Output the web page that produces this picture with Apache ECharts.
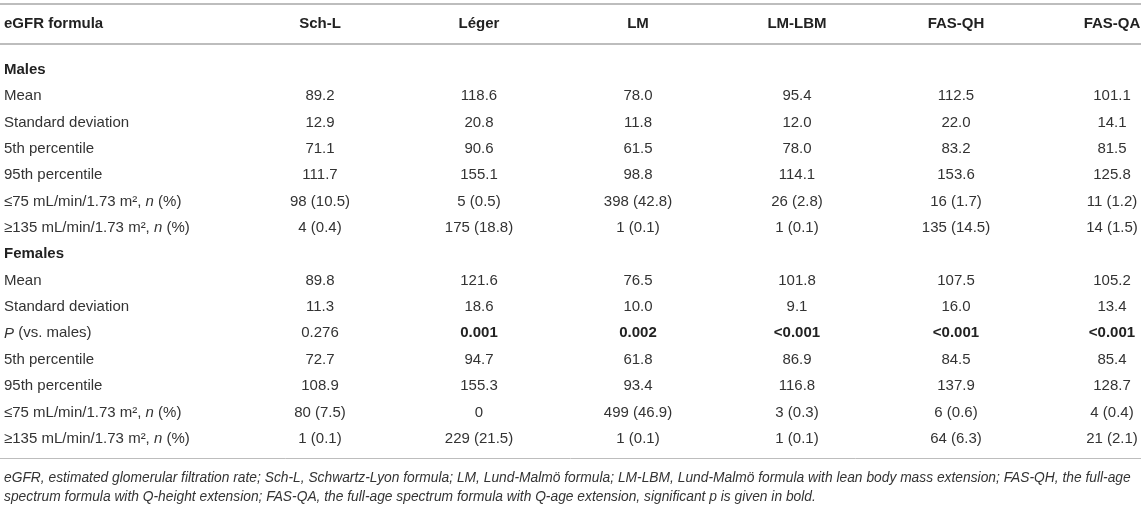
<!DOCTYPE html>
<html>
<head>
<meta charset="utf-8">
<title>eGFR formulas by sex</title>
<script src="https://cdn.jsdelivr.net/npm/echarts@6/dist/echarts.min.js"></script>
<style>
  html, body { margin: 0; padding: 0; background: #fff; }
  #table-chart { width: 1145px; height: 507px; }
</style>
</head>
<body>
<div id="table-chart"></div>
<script>
// ---- data ----
var formulas = ['Sch-L', 'Léger', 'LM', 'LM-LBM', 'FAS-QH', 'FAS-QA'];

var maleMean = ['89.2', '118.6', '78.0', '95.4', '112.5', '101.1'];
var maleSd = ['12.9', '20.8', '11.8', '12.0', '22.0', '14.1'];
var maleP5 = ['71.1', '90.6', '61.5', '78.0', '83.2', '81.5'];
var maleP95 = ['111.7', '155.1', '98.8', '114.1', '153.6', '125.8'];
var maleLow = ['98 (10.5)', '5 (0.5)', '398 (42.8)', '26 (2.8)', '16 (1.7)', '11 (1.2)'];
var maleHigh = ['4 (0.4)', '175 (18.8)', '1 (0.1)', '1 (0.1)', '135 (14.5)', '14 (1.5)'];

var femaleMean = ['89.8', '121.6', '76.5', '101.8', '107.5', '105.2'];
var femaleSd = ['11.3', '18.6', '10.0', '9.1', '16.0', '13.4'];
var femaleP = ['0.276', '0.001', '0.002', '<0.001', '<0.001', '<0.001'];
var femaleP5 = ['72.7', '94.7', '61.8', '86.9', '84.5', '85.4'];
var femaleP95 = ['108.9', '155.3', '93.4', '116.8', '137.9', '128.7'];
var femaleLow = ['80 (7.5)', '0', '499 (46.9)', '3 (0.3)', '6 (0.6)', '4 (0.4)'];
var femaleHigh = ['1 (0.1)', '229 (21.5)', '1 (0.1)', '1 (0.1)', '64 (6.3)', '21 (2.1)'];

var lowLabel = '≤75 mL/min/1.73 m², {i|n} (%)';
var highLabel = '≥135 mL/min/1.73 m², {i|n} (%)';

var rows = [
  { label: '{b|Males}', values: null },
  { label: 'Mean', values: maleMean },
  { label: 'Standard deviation', values: maleSd },
  { label: '5th percentile', values: maleP5 },
  { label: '95th percentile', values: maleP95 },
  { label: lowLabel, values: maleLow },
  { label: highLabel, values: maleHigh },
  { label: '{b|Females}', values: null },
  { label: 'Mean', values: femaleMean },
  { label: 'Standard deviation', values: femaleSd },
  { label: '{i|P} (vs. males)', values: femaleP, pvalue: true },
  { label: '5th percentile', values: femaleP5 },
  { label: '95th percentile', values: femaleP95 },
  { label: lowLabel, values: femaleLow },
  { label: highLabel, values: femaleHigh }
];

var footnote = [
  'eGFR, estimated glomerular filtration rate; Sch-L, Schwartz-Lyon formula; LM, Lund-Malmö formula; LM-LBM, Lund-Malmö formula with lean body mass extension; FAS-QH, the full-age',
  'spectrum formula with Q-height extension; FAS-QA, the full-age spectrum formula with Q-age extension, significant p is given in bold.'
];

// ---- layout ----
var W = 1145;
var ruleEnd = 1141;
var colX = [320, 479, 638, 797, 956, 1112];
var labelX = 4;
var font = '"Liberation Sans", Arial, sans-serif';
var ink = '#333';
var rule = '#bdbdbd';

var rich = {
  b: { fontFamily: font, fontSize: 15, fontWeight: 'bold', fill: '#222' },
  i: { fontFamily: font, fontSize: 15, fontStyle: 'italic', fill: ink }
};

// flatten into cells
var cells = [];
rows.forEach(function (r, ri) {
  cells.push({ x: labelX, row: ri, text: r.label, align: 'left', bold: false });
  if (!r.values) return;
  r.values.forEach(function (v, ci) {
    var bold = false;
    if (r.pvalue) bold = parseFloat(v.replace('<', '')) < 0.05;
    cells.push({ x: colX[ci], row: ri, text: v, align: 'center', bold: bold });
  });
});

var chart = echarts.init(document.getElementById('table-chart'));

var graphics = [
  { type: 'line', shape: { x1: 0, y1: 4, x2: ruleEnd, y2: 4 }, style: { stroke: rule, lineWidth: 2 } },
  { type: 'line', shape: { x1: 0, y1: 44, x2: ruleEnd, y2: 44 }, style: { stroke: rule, lineWidth: 2 } },
  { type: 'line', shape: { x1: 0, y1: 458.5, x2: ruleEnd, y2: 458.5 }, style: { stroke: rule, lineWidth: 1 } },
  { type: 'text', x: labelX, y: 24, style: { text: 'eGFR formula', fontFamily: font, fontSize: 15, fontWeight: 'bold', fill: '#222', align: 'left', verticalAlign: 'middle' } }
];
formulas.forEach(function (f, i) {
  graphics.push({ type: 'text', x: colX[i], y: 24,
    style: { text: f, fontFamily: font, fontSize: 15, fontWeight: 'bold', fill: '#222', align: 'center', verticalAlign: 'middle' } });
});
footnote.forEach(function (line, i) {
  graphics.push({ type: 'text', x: labelX, y: 478 + i * 19,
    style: { text: line, fontFamily: font, fontSize: 13.8, fontStyle: 'italic', fill: ink, align: 'left', verticalAlign: 'middle' } });
});

chart.setOption({
  animation: false,
  grid: { left: 0, right: 0, top: 56.5, bottom: 55 },
  xAxis: { type: 'value', min: 0, max: W, show: false },
  yAxis: { type: 'category', data: rows.map(function (r, i) { return i; }), inverse: true, show: false },
  graphic: graphics,
  series: [{
    type: 'custom',
    data: cells.map(function (c) { return [c.x, c.row]; }),
    renderItem: function (params, api) {
      var c = cells[params.dataIndex];
      var p = api.coord([api.value(0), api.value(1)]);
      return {
        type: 'text',
        x: p[0],
        y: p[1],
        style: {
          text: c.text,
          fontFamily: font,
          fontSize: 15,
          fontWeight: c.bold ? 'bold' : 'normal',
          fill: c.bold ? '#222' : ink,
          align: c.align,
          verticalAlign: 'middle',
          rich: rich
        }
      };
    }
  }]
});
</script>
</body>
</html>
